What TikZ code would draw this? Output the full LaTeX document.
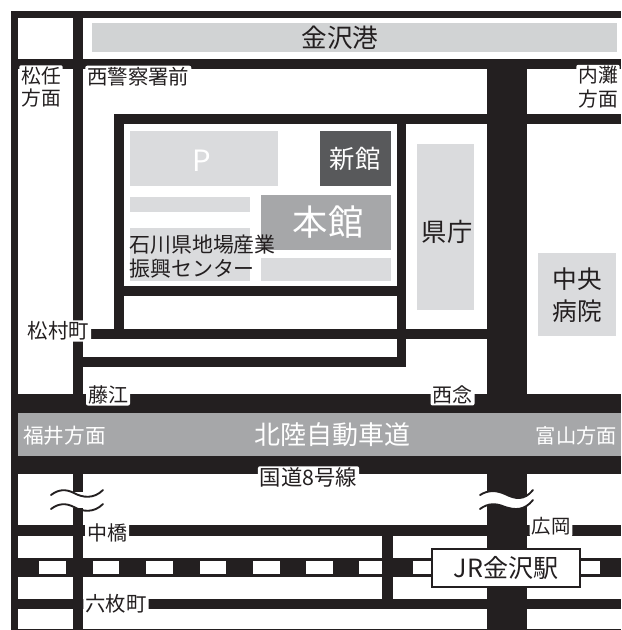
\documentclass[tikz,border=0pt]{standalone}
\usepackage{fontspec}
\setmainfont{Noto Sans CJK JP}
\definecolor{road}{HTML}{231F20}
\definecolor{lg}{HTML}{DADBDD}
\definecolor{port}{HTML}{D1D3D4}
\definecolor{mg}{HTML}{A6A7A9}
\definecolor{dg}{HTML}{58595B}
\newcommand{\rd}[4]{\fill[road] (#1,#2) rectangle (#3,#4);}
\newcommand{\blk}[5]{\fill[#5] (#1,#2) rectangle (#3,#4);}
\newcommand{\fsz}[2]{\fontsize{#1}{#2}\selectfont}
\tikzset{
 lbl/.style={inner sep=0pt,align=center,text=road},
 halo/.style={lbl,fill=white,inner xsep=1.5pt,inner ysep=1pt,rounded corners=1.5pt},
 wht/.style={inner sep=0pt,align=center,text=white},
 wave/.style={draw=road,line width=1.4pt,line cap=round}
}
\begin{document}
\begin{tikzpicture}[x=0.75pt,y=-0.75pt]
\useasboundingbox (0,0) rectangle (621,630);
\fill[white] (0,0) rectangle (621,630);
% outer roads
\rd{10.5}{11}{621}{18}
\rd{10.5}{11}{18}{630}
\rd{72.5}{18}{82.5}{630}
\rd{10.5}{59}{621}{69}
\rd{487}{59}{527}{630}
% inner loop
\rd{114}{114}{621}{124}
\rd{114}{114}{124}{339}
\rd{397}{114}{406}{367}
\rd{114}{286.5}{397}{296}
\rd{82}{329.3}{487}{339.3}
\rd{82}{357.3}{406}{367.3}
% expressway
\rd{10.5}{394.3}{621}{474}
\blk{18}{413.3}{621}{455.7}{mg}
% lower roads
\rd{10.5}{525.3}{621}{536}
\rd{10.5}{558.3}{621}{576.7}
\rd{10.5}{599}{621}{609.3}
% rail dashes
\foreach \a/\b in {39.3/66,92.7/119.3,146/173,199.5/226,253/279.5,306/333,359.3/382.3,413/440,581/600}
  \fill[white] (\a,561) rectangle (\b,574.3);
\rd{382.3}{536}{392.7}{599}
\rd{10.5}{629}{621}{630}
% blocks
\blk{92}{23}{617}{52}{port}
\blk{130}{131}{278}{186}{lg}
\blk{130}{197}{250}{212}{lg}
\blk{130}{228}{250}{281}{lg}
\blk{261}{195}{391}{250}{mg}
\blk{261}{258}{391}{281}{lg}
\blk{320}{131}{391}{186}{dg}
\blk{417}{144}{474}{310}{lg}
\blk{538}{253}{616}{336}{lg}
% breaks
\fill[white] (72.4,492) rectangle (82.6,508);
\draw[wave] (51,495) .. controls (59,489) and (66,489) .. (74,493) .. controls (83,498) and (94,499) .. (103,490);
\draw[wave] (51,509) .. controls (59,503) and (66,503) .. (74,507) .. controls (83,512) and (94,513) .. (103,504);
\fill[white] (480,495) .. controls (488,490) and (496,490) .. (505,494) .. controls (515,499) and (524,501) .. (533,490)
  -- (533,500) .. controls (524,511) and (515,510) .. (505,507) .. controls (496,503) and (488,503) .. (480,509) -- cycle;
\draw[wave] (480,495) .. controls (488,490) and (496,490) .. (505,494) .. controls (515,499) and (524,501) .. (533,490);
\draw[wave] (480,509) .. controls (488,503) and (496,503) .. (505,507) .. controls (515,510) and (524,511) .. (533,500);
% station
\node[draw=road,line width=0.8pt,fill=white,minimum width=111pt,minimum height=28.5pt,inner sep=0pt,text=road,font=\fsz{18.8}{22}] (jr) at (506,568) {JR金沢駅};
% labels
\node[lbl,font=\fsz{19.2}{22}] (port) at (340,38) {金沢港};
\node[wht,font=\fsz{22}{24}] (p) at (202,161) {P};
\node[wht,font=\fsz{19}{22}] (shin) at (355,159) {新館};
\node[wht,font=\fsz{26.5}{30}] (hon) at (328,222) {本館};
\node[lbl,font=\fsz{19}{22}] (ken) at (447,232) {県庁};
\node[lbl,font=\fsz{18.5}{24}] (chuo) at (577,295) {中央\\病院};
\node[halo,font=\fsz{14.8}{16.9}] (matsuto) at (41,87) {松任\\方面};
\node[halo,anchor=west,font=\fsz{15.3}{17}] (keisatsu) at (85,76.5) {西警察署前};
\node[halo,font=\fsz{14.8}{17.6}] (uchinada) at (598,87) {内灘\\方面};
\node[inner sep=0pt,align=left,anchor=north west,text=road,font=\fsz{15.7}{18.4}] (center) at (129,234.5) {石川県地場産業\\振興センター};
\node[halo,font=\fsz{15.3}{17}] (matsumura) at (58.5,331) {松村町};
\node[halo] at (108,395) [font=\fsz{15}{17}] (fujie) {藤江};
\node[halo,font=\fsz{15}{17}] (sainen) at (452.5,395) {西念};
\node[wht,font=\fsz{15.5}{17}] (fukui) at (64.5,436) {福井方面};
\node[wht,font=\fsz{19.5}{22}] (hokuriku) at (332,435) {北陸自動車道};
\node[wht,font=\fsz{15.2}{17}] (toyama) at (576.5,436) {富山方面};
\node[halo,font=\fsz{16}{17}] (kokudo) at (308.5,477.5) {国道8号線};
\node[halo,font=\fsz{15}{17}] (nakahashi) at (107,533) {中橋};
\node[halo,font=\fsz{14.5}{17}] (hirooka) at (551,526.5) {広岡};
\node[halo,font=\fsz{15.3}{17}] (mutsumai) at (116,603.5) {六枚町};
\end{tikzpicture}
\end{document}
